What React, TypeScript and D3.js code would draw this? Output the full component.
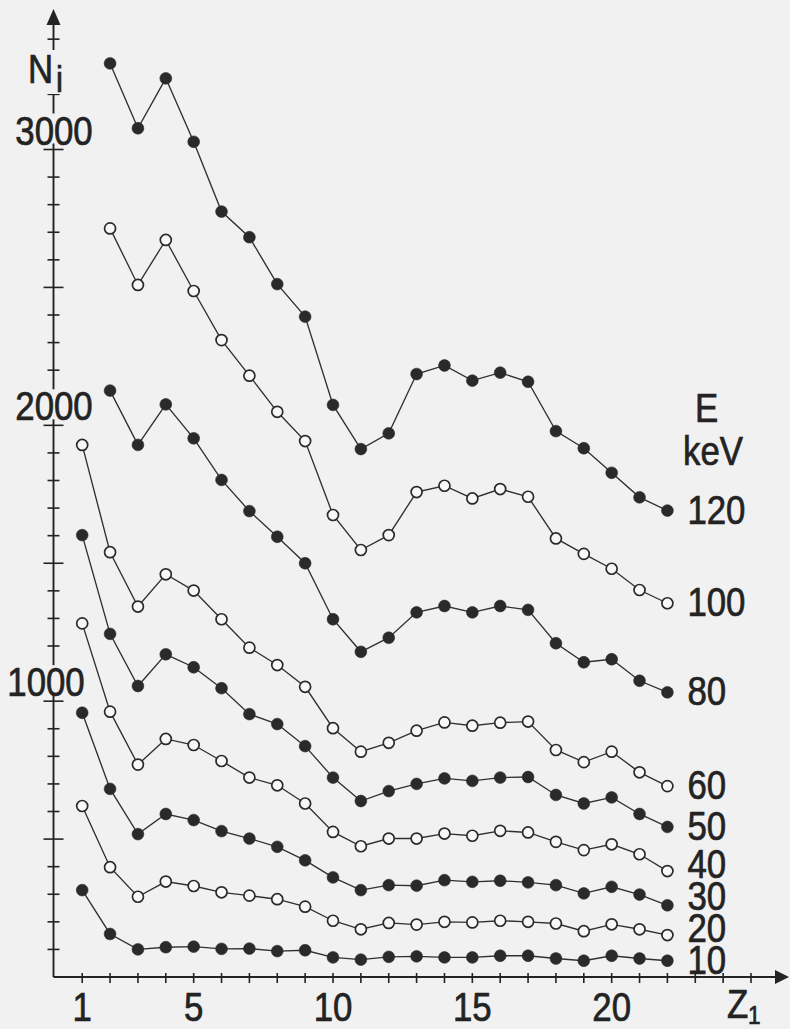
import React from "react";
import * as d3 from "d3";

// Atomic number of the projectile (x axis)
const zFrom1 = [1, 2, 3, 4, 5, 6, 7, 8, 9, 10, 11, 12, 13, 14, 15, 16, 17, 18, 19, 20, 21, 22];
const zFrom2 = [2, 3, 4, 5, 6, 7, 8, 9, 10, 11, 12, 13, 14, 15, 16, 17, 18, 19, 20, 21, 22];

// Counts N_i per beam energy (keV)
const n120 = [3312, 3077, 3258, 3028, 2775, 2682, 2512, 2394, 2074, 1914, 1971, 2186, 2217, 2162, 2191, 2158, 1979, 1917, 1828, 1739, 1691];
const n100 = [2714, 2509, 2672, 2487, 2309, 2180, 2049, 1943, 1675, 1548, 1602, 1758, 1781, 1735, 1769, 1741, 1590, 1534, 1480, 1403, 1355];
const n80 = [2126, 1929, 2076, 1953, 1802, 1689, 1596, 1500, 1297, 1179, 1230, 1322, 1345, 1322, 1345, 1331, 1210, 1141, 1152, 1074, 1032];
const n60 = [1929, 1540, 1343, 1460, 1401, 1297, 1194, 1131, 1052, 902, 817, 849, 893, 923, 911, 922, 926, 823, 779, 817, 742, 692];
const n50 = [1602, 1244, 1055, 1170, 1123, 1047, 953, 917, 837, 723, 638, 674, 700, 720, 711, 723, 725, 660, 629, 651, 591, 544];
const n40 = [1282, 962, 770, 863, 841, 783, 723, 695, 629, 526, 474, 502, 502, 520, 512, 530, 524, 490, 460, 481, 445, 384];
const n30 = [958, 682, 518, 591, 569, 529, 502, 472, 423, 361, 315, 333, 331, 351, 345, 349, 343, 333, 303, 327, 299, 260];
const n20 = [620, 398, 291, 346, 330, 307, 295, 282, 255, 204, 173, 196, 190, 200, 198, 204, 200, 194, 166, 191, 173, 152];
const n10 = [315, 156, 100, 108, 110, 102, 103, 94, 97, 71, 63, 73, 75, 71, 71, 77, 77, 67, 59, 77, 67, 59];

const energies = ["120", "100", "80", "60", "50", "40", "30", "20", "10"];
const seriesValues = [n120, n100, n80, n60, n50, n40, n30, n20, n10];
const seriesZ = [zFrom2, zFrom2, zFrom2, zFrom1, zFrom1, zFrom1, zFrom1, zFrom1, zFrom1];
const seriesFilled = [true, false, true, false, true, false, true, false, true];

const xTickLabels = [1, 5, 10, 15, 20];
const yTickLabels = [1000, 2000, 3000];

const W = 790;
const H = 1029;
const BG = "#f1f1f1";
const INK = "#232323";
const FONT = "'Liberation Sans', Arial, sans-serif";
const FS = 40;
const SX = 0.87;

export default function App() {
  const x = d3.scaleLinear().domain([1, 22]).range([82.2, 667.4]);
  const y = d3.scaleLinear().domain([0, 3000]).range([977, 149.5]);
  const x0 = 53.5;
  const y0 = y(0);

  const line = d3
    .line<[number, number]>()
    .x((d) => x(d[0]))
    .y((d) => y(d[1]));

  const series = energies.map((e, i) => ({
    label: e,
    filled: seriesFilled[i],
    pts: seriesZ[i].map((z, j) => [z, seriesValues[i][j]] as [number, number]),
  }));

  // End labels sit at the last point, pushed apart from the bottom upward
  const labelY: number[] = series.map((s) => y(s.pts[s.pts.length - 1][1]));
  for (let i = labelY.length - 2; i >= 0; i--) {
    labelY[i] = Math.min(labelY[i], labelY[i + 1] - 32);
  }

  const yMinor = d3.range(100, 3500, 100);
  const xMinor = d3.range(1, 26, 1);

  const T = (props: {
    x: number;
    y: number;
    anchor?: string;
    size?: number;
    children: React.ReactNode;
  }) => (
    <text
      transform={`translate(${props.x},${props.y}) scale(${SX},1)`}
      textAnchor={props.anchor || "start"}
      fontFamily={FONT}
      fontSize={props.size || FS}
      fill={INK}
      stroke={INK}
      strokeWidth={0.7}
    >
      {props.children}
    </text>
  );

  return (
    <svg
      width={W}
      height={H}
      style={{ position: "absolute", left: 0, top: 0 }}
    >
      <rect width={W} height={H} fill={BG} />

      {/* y axis with arrow */}
      <line x1={x0} x2={x0} y1={24} y2={y0} stroke={INK} strokeWidth={1.9} />
      <path d={`M${x0},9 L${x0 - 7},25 L${x0 + 7},25 Z`} fill={INK} />
      {yMinor.map((v) => {
        const major = v % 500 === 0;
        return (
          <line
            key={v}
            x1={major ? x0 - 10 : x0 - 6}
            x2={major ? x0 + 10 : x0 + 6}
            y1={y(v)}
            y2={y(v)}
            stroke={INK}
            strokeWidth={1.6}
          />
        );
      })}

      {/* x axis with arrow */}
      <line x1={x0} x2={778} y1={y0} y2={y0} stroke={INK} strokeWidth={1.9} />
      <path d={`M789,${y0} L775,${y0 - 7} L775,${y0 + 7} Z`} fill={INK} />
      {xMinor.map((z) => (
        <line
          key={z}
          x1={x(z)}
          x2={x(z)}
          y1={y0 - 4}
          y2={y0 + 6}
          stroke={INK}
          strokeWidth={1.6}
        />
      ))}

      {/* y tick labels, drawn over the axis */}
      {yTickLabels.map((v) => {
        const cx = v === 1000 ? 46 : 54;
        return (
          <g key={v}>
            <rect x={cx - 38} y={y(v) - 36} width={76} height={30} fill={BG} />
            <T x={cx} y={y(v) - 5} anchor="middle">
              {String(v)}
            </T>
          </g>
        );
      })}

      {/* y axis title */}
      <rect x={26} y={50} width={40} height={44} fill={BG} />
      <T x={28} y={83}>N</T>
      <T x={56} y={92} size={36}>i</T>

      {/* x tick labels */}
      {xTickLabels.map((z) => (
        <T key={z} x={x(z)} y={1021} anchor="middle">
          {String(z)}
        </T>
      ))}
      <T x={727} y={1018}>Z</T>
      <T x={748} y={1024} size={26}>1</T>

      {/* series */}
      {series.map((s) => (
        <g key={s.label}>
          <path d={line(s.pts) || ""} fill="none" stroke="#303030" strokeWidth={1.35} />
          {s.pts.map((p) => (
            <circle
              key={p[0]}
              cx={x(p[0])}
              cy={y(p[1])}
              r={s.filled ? 5.9 : 5.5}
              fill={s.filled ? "#2a2a2a" : "#f8f8f8"}
              stroke="#2a2a2a"
              strokeWidth={s.filled ? 0.6 : 1.7}
            />
          ))}
        </g>
      ))}

      {/* energy labels */}
      <T x={695} y={422}>E</T>
      <T x={683} y={465}>keV</T>
      {series.map((s, i) => (
        <T key={s.label} x={x(22) + 20} y={labelY[i] + 13}>
          {s.label}
        </T>
      ))}
    </svg>
  );
}
